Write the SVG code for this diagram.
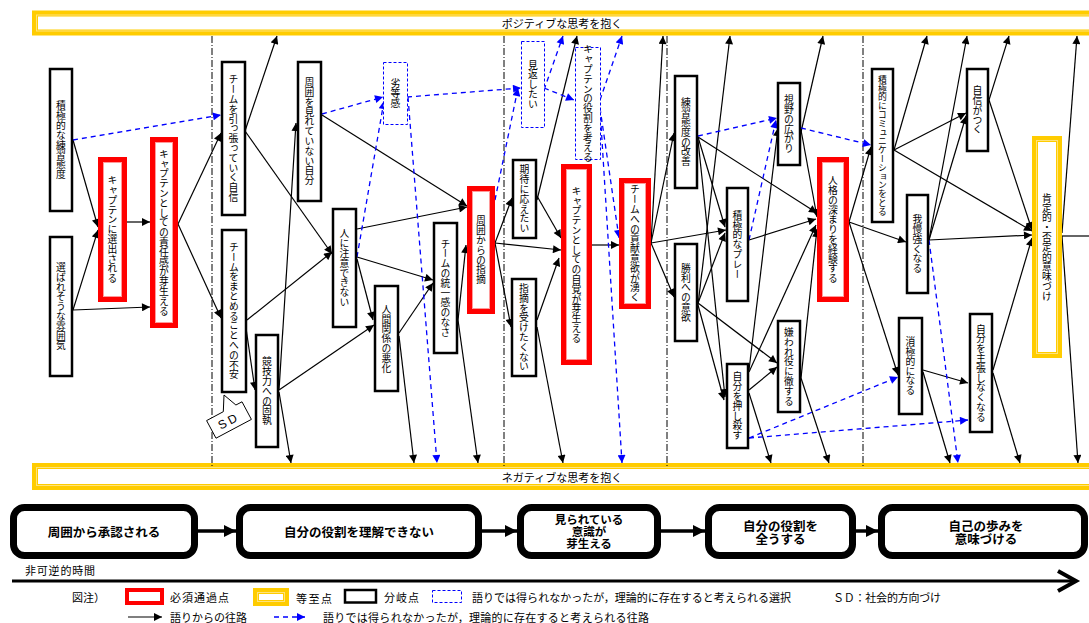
<svg xmlns="http://www.w3.org/2000/svg" width="1089" height="623" viewBox="0 0 1089 623">
<defs>
<marker id="ah" viewBox="0 0 10 10" refX="10" refY="5" markerWidth="9" markerHeight="8" orient="auto" markerUnits="userSpaceOnUse"><path d="M0,0 L10,5 L0,10 z" fill="#000"/></marker>
<marker id="bh" viewBox="0 0 10 10" refX="10" refY="5" markerWidth="9" markerHeight="8" orient="auto" markerUnits="userSpaceOnUse"><path d="M0,0 L10,5 L0,10 z" fill="#0000FF"/></marker>
<marker id="ph" viewBox="0 0 10 10" refX="10" refY="5" markerWidth="12" markerHeight="12" orient="auto" markerUnits="userSpaceOnUse"><path d="M0,0 L10,5 L0,10 z" fill="#000"/></marker>
</defs>
<style>
text{font-family:"Noto Sans CJK JP","Noto Sans",sans-serif;fill:#000}
.v{writing-mode:vertical-rl;text-anchor:middle;dominant-baseline:central;font-size:9.8px}
.blk{fill:#fff;stroke:#000;stroke-width:2.5}
.red{fill:#fff;stroke:#FF0000;stroke-width:5}
.redi{fill:none;stroke:#FF9A9A;stroke-width:1}
.dsh{fill:#fff;stroke:#0000FF;stroke-width:1;stroke-dasharray:3 2}
.yo{fill:#FFE37A;stroke:#FFCC00;stroke-width:4}
.yi{fill:#fff;stroke:#FFCC00;stroke-width:1}
.dd{stroke:#000;stroke-width:1;stroke-dasharray:7 2 1 2;fill:none}
#connectors line{fill:none}
.e{stroke:#000;stroke-width:1.2;marker-end:url(#ah)}
.d{stroke:#0000FF;stroke-width:1.3;stroke-dasharray:5 4;marker-end:url(#bh)}
.pb{fill:#fff;stroke:#000;stroke-width:7}
.pt{font-size:12.5px;font-weight:bold;text-anchor:middle;dominant-baseline:central}
.lg{font-size:11px;dominant-baseline:central}
</style>
<rect width="1089" height="623" fill="#fff"/>

<g id="bands">
<rect class="yo" x="34" y="12.5" width="1070" height="21"/>
<rect class="yi" x="37.5" y="16" width="1062" height="14"/>
<text x="562" y="23" font-size="11" text-anchor="middle" dominant-baseline="central">ポジティブな思考を抱く</text>
<rect class="yo" x="34" y="465" width="1070" height="23"/>
<rect class="yi" x="37.5" y="468.5" width="1062" height="16"/>
<text x="562" y="477" font-size="11" text-anchor="middle" dominant-baseline="central">ネガティブな思考を抱く</text>
</g>

<g id="dividers">
<line class="dd" x1="212" y1="36" x2="212" y2="466"/>
<line class="dd" x1="504" y1="36" x2="504" y2="466"/>
<line class="dd" x1="667" y1="36" x2="667" y2="466"/>
<line class="dd" x1="863" y1="36" x2="863" y2="466"/>
</g>

<g id="connectors">
<line class="e" x1="73" y1="140" x2="98" y2="227"/>
<line class="e" x1="73" y1="310" x2="98" y2="230"/>
<line class="e" x1="73" y1="310" x2="150" y2="307"/>
<line class="e" x1="127" y1="222" x2="150" y2="222"/>
<line class="e" x1="178" y1="224" x2="221" y2="133"/>
<line class="e" x1="178" y1="224" x2="221" y2="318"/>
<line class="e" x1="245" y1="131" x2="277" y2="36"/>
<line class="e" x1="245" y1="131" x2="332" y2="254"/>
<line class="e" x1="247" y1="320" x2="332" y2="252"/>
<line class="e" x1="246" y1="328" x2="255" y2="390"/>
<line class="e" x1="279" y1="390" x2="296" y2="123"/>
<line class="e" x1="279" y1="392" x2="291" y2="463"/>
<line class="e" x1="279" y1="390" x2="374" y2="325"/>
<line class="e" x1="322" y1="115" x2="467" y2="206"/>
<line class="e" x1="357" y1="229" x2="467" y2="207"/>
<line class="e" x1="357" y1="257" x2="433" y2="280"/>
<line class="e" x1="357" y1="259" x2="373" y2="320"/>
<line class="e" x1="399" y1="333" x2="433" y2="283"/>
<line class="e" x1="399" y1="336" x2="414" y2="463"/>
<line class="e" x1="458" y1="320" x2="466" y2="245"/>
<line class="e" x1="458" y1="320" x2="478" y2="463"/>
<line class="e" x1="495" y1="243" x2="512" y2="198"/>
<line class="e" x1="495" y1="243" x2="511" y2="327"/>
<line class="e" x1="495" y1="243" x2="561" y2="250"/>
<line class="e" x1="537" y1="200" x2="577" y2="36"/>
<line class="e" x1="537" y1="196" x2="561" y2="238"/>
<line class="e" x1="537" y1="320" x2="559" y2="258"/>
<line class="e" x1="537" y1="327" x2="563" y2="463"/>
<line class="e" x1="592" y1="245" x2="619" y2="245"/>
<line class="e" x1="651" y1="243" x2="663" y2="36"/>
<line class="e" x1="651" y1="243" x2="674" y2="133"/>
<line class="e" x1="651" y1="243" x2="726" y2="230"/>
<line class="e" x1="651" y1="243" x2="674" y2="297"/>
<line class="e" x1="698" y1="137" x2="817" y2="213"/>
<line class="e" x1="698" y1="137" x2="725" y2="227"/>
<line class="e" x1="698" y1="140" x2="725" y2="397"/>
<line class="e" x1="698" y1="305" x2="730" y2="36"/>
<line class="e" x1="698" y1="303" x2="725" y2="233"/>
<line class="e" x1="698" y1="303" x2="777" y2="363"/>
<line class="e" x1="698" y1="305" x2="724" y2="400"/>
<line class="e" x1="749" y1="240" x2="816" y2="219"/>
<line class="e" x1="749" y1="370" x2="778" y2="128"/>
<line class="e" x1="749" y1="390" x2="777" y2="367"/>
<line class="e" x1="749" y1="393" x2="771" y2="463"/>
<line class="e" x1="749" y1="372" x2="816" y2="225"/>
<line class="e" x1="801" y1="378" x2="817" y2="229"/>
<line class="e" x1="801" y1="378" x2="829" y2="463"/>
<line class="e" x1="801" y1="132" x2="823" y2="36"/>
<line class="e" x1="801" y1="130" x2="817" y2="217"/>
<line class="e" x1="849" y1="222" x2="906" y2="242"/>
<line class="e" x1="849" y1="222" x2="871" y2="147"/>
<line class="e" x1="849" y1="222" x2="898" y2="375"/>
<line class="e" x1="894" y1="150" x2="927" y2="36"/>
<line class="e" x1="894" y1="150" x2="966" y2="113"/>
<line class="e" x1="894" y1="150" x2="1032" y2="231"/>
<line class="e" x1="929" y1="240" x2="967" y2="36"/>
<line class="e" x1="929" y1="240" x2="966" y2="116"/>
<line class="e" x1="929" y1="240" x2="1032" y2="235"/>
<line class="e" x1="989" y1="100" x2="1009" y2="36"/>
<line class="e" x1="989" y1="100" x2="1032" y2="230"/>
<line class="e" x1="923" y1="370" x2="968" y2="383"/>
<line class="e" x1="923" y1="372" x2="950" y2="463"/>
<line class="e" x1="993" y1="370" x2="1032" y2="238"/>
<line class="e" x1="993" y1="373" x2="1020" y2="463"/>
<line class="e" x1="1062" y1="233" x2="1077" y2="36"/>
<line class="e" x1="1062" y1="236" x2="1078" y2="463"/>
<line x1="1062" y1="236" x2="1089" y2="236" stroke="#000" stroke-width="1.2"/>
<line class="d" x1="73" y1="140" x2="221" y2="115"/>
<line class="d" x1="322" y1="114" x2="383" y2="97"/>
<line class="d" x1="357" y1="257" x2="384" y2="101"/>
<line class="d" x1="407" y1="97" x2="521" y2="88"/>
<line class="d" x1="408" y1="97" x2="437" y2="463"/>
<line class="d" x1="495" y1="200" x2="518" y2="88"/>
<line class="d" x1="544" y1="90" x2="563" y2="36"/>
<line class="d" x1="544" y1="88" x2="574" y2="100"/>
<line class="d" x1="600" y1="100" x2="622" y2="36"/>
<line class="d" x1="600" y1="108" x2="619" y2="238"/>
<line class="d" x1="600" y1="108" x2="622" y2="463"/>
<line class="d" x1="698" y1="136" x2="777" y2="118"/>
<line class="d" x1="749" y1="240" x2="776" y2="120"/>
<line class="d" x1="801" y1="128" x2="871" y2="145"/>
<line class="d" x1="749" y1="438" x2="898" y2="377"/>
<line class="d" x1="749" y1="438" x2="968" y2="420"/>
<line class="d" x1="929" y1="240" x2="958" y2="463"/>
</g>

<g id="n1"><rect class="blk" x="50" y="69" width="22" height="142"/><text class="v" x="61" y="140">積極的な練習態度</text></g>
<g id="n2"><rect class="blk" x="50" y="237" width="22" height="139"/><text class="v" x="61" y="306.5">選ばれそうな雰囲気</text></g>
<g id="n3"><rect class="red" x="100.5" y="159.5" width="24" height="140"/><rect class="redi" x="103.5" y="162.5" width="18" height="134"/><text class="v" x="112.5" y="229.5">キャプテンに選出される</text></g>
<g id="n4"><rect class="red" x="152.5" y="139.5" width="23" height="186"/><rect class="redi" x="155.5" y="142.5" width="17" height="180"/><text class="v" x="164" y="232.5">キャプテンとしての責任感が芽生える</text></g>
<g id="n5"><rect class="blk" x="222" y="62" width="23" height="153"/><text class="v" x="233.5" y="138.5">チームを引っ張っていく自信</text></g>
<g id="n6"><rect class="blk" x="222" y="230" width="24" height="162"/><text class="v" x="234" y="311">チームをまとめることへの不安</text></g>
<g id="n7"><rect class="blk" x="256" y="335" width="22" height="112"/><text class="v" x="267" y="391">競技力への固執</text></g>
<g id="sd"><polygon points="206.6,420.6 223.3,411.7 224,395 235.9,405 242,401.8 251.4,419.4 216,438.2" fill="#fff" stroke="#000" stroke-width="1"/><text x="229" y="421" font-size="12" text-anchor="middle" dominant-baseline="central" letter-spacing="3" transform="rotate(-28 229 421)" style="font-family:'Liberation Sans',sans-serif">SD</text></g>
<g id="n8"><rect class="blk" x="298" y="62" width="23" height="139"/><text class="v" x="309.5" y="131.5">周囲を見れていない自分</text></g>
<g id="n9"><rect class="blk" x="333" y="209" width="23" height="118"/><text class="v" x="344.5" y="268">人に注意できない</text></g>
<g id="n10"><rect class="blk" x="375" y="286" width="23" height="105"/><text class="v" x="386.5" y="338.5">人間関係の悪化</text></g>
<g id="n11"><rect class="dsh" x="383.5" y="62.5" width="24" height="62"/><text class="v" x="395.5" y="93.5">劣等感</text></g>
<g id="n12"><rect class="blk" x="434" y="223" width="23" height="130"/><text class="v" x="445.5" y="288">チームの統一感のなさ</text></g>
<g id="n13"><rect class="red" x="469.5" y="188.5" width="23" height="123"/><rect class="redi" x="472.5" y="191.5" width="17" height="117"/><text class="v" x="481" y="250">周囲からの指摘</text></g>
<g id="n14"><rect class="dsh" x="521.5" y="41.5" width="23" height="86"/><text class="v" x="533" y="84.5">見返したい</text></g>
<g id="n15"><rect class="blk" x="513" y="160" width="23" height="78"/><text class="v" x="524.5" y="199">期待に応えたい</text></g>
<g id="n16"><rect class="blk" x="512" y="279" width="24" height="97"/><text class="v" x="524" y="327.5">指摘を受けたくない</text></g>
<g id="n17"><rect class="dsh" x="575.5" y="47.5" width="25" height="112"/><text class="v" x="588" y="103.5">キャプテンの役割を考える</text></g>
<g id="n18"><rect class="red" x="563.5" y="166.5" width="26" height="196"/><rect class="redi" x="566.5" y="169.5" width="20" height="190"/><text class="v" x="576.5" y="264.5">キャプテンとしての自覚が芽生える</text></g>
<g id="n19"><rect class="red" x="621.5" y="180.5" width="27" height="126"/><rect class="redi" x="624.5" y="183.5" width="21" height="120"/><text class="v" x="635" y="243.5">チームへの貢献意欲が湧く</text></g>
<g id="n20"><rect class="blk" x="675" y="76" width="22" height="112"/><text class="v" x="686" y="132">練習態度の改善</text></g>
<g id="n21"><rect class="blk" x="675" y="244" width="22" height="97"/><text class="v" x="686" y="292.5">勝利への意欲</text></g>
<g id="n22"><rect class="blk" x="727" y="188" width="21" height="113"/><text class="v" x="737.5" y="244.5">積極的なプレー</text></g>
<g id="n23"><rect class="blk" x="727" y="364" width="21" height="84"/><text class="v" x="737.5" y="406">自分を押し殺す</text></g>
<g id="n24"><rect class="blk" x="778" y="83" width="22" height="82"/><text class="v" x="789" y="124">視野の広がり</text></g>
<g id="n25"><rect class="blk" x="778" y="321" width="22" height="91"/><text class="v" x="789" y="366.5">嫌われ役に徹する</text></g>
<g id="n26"><rect class="red" x="819.5" y="159.5" width="27" height="140"/><rect class="redi" x="822.5" y="162.5" width="21" height="134"/><text class="v" x="833" y="229.5">人格の深まりを経験する</text></g>
<g id="n27"><rect class="blk" x="872" y="69" width="21" height="153"/><text class="v" x="882.5" y="145.5" style="font-size:8.8px">積極的にコミュニケーションをとる</text></g>
<g id="n28"><rect class="blk" x="907" y="195" width="21" height="98"/><text class="v" x="917.5" y="244">我慢強くなる</text></g>
<g id="n29"><rect class="blk" x="899" y="318" width="23" height="96"/><text class="v" x="910.5" y="366">消極的になる</text></g>
<g id="n30"><rect class="blk" x="967" y="69" width="21" height="82"/><text class="v" x="977.5" y="110">自信がつく</text></g>
<g id="n31"><rect class="blk" x="970" y="314" width="22" height="118"/><text class="v" x="981" y="373">自分を主張しなくなる</text></g>
<g id="n32"><rect class="yo" x="1034" y="138" width="26" height="218"/><rect class="yi" x="1037.5" y="141.5" width="19" height="211"/><text class="v" x="1047" y="247">肯定的・否定的意味づけ</text></g>

<g id="process">
<g id="p1"><rect class="pb" x="13.5" y="507.5" width="181" height="48" rx="11"/><text class="pt" x="104" y="531">周囲から承認される</text></g>
<g id="p2"><rect class="pb" x="239.5" y="507.5" width="239" height="48" rx="11"/><text class="pt" x="359" y="531">自分の役割を理解できない</text></g>
<g id="p3"><rect class="pb" x="520.5" y="507.5" width="137" height="48" rx="11"/><text class="pt" style="font-size:11.5px"><tspan x="589" y="519">見られている</tspan><tspan x="589" y="531">意識が</tspan><tspan x="589" y="543">芽生える</tspan></text></g>
<g id="p4"><rect class="pb" x="708.5" y="507.5" width="144" height="48" rx="11"/><text class="pt"><tspan x="780.5" y="525">自分の役割を</tspan><tspan x="780.5" y="538">全うする</tspan></text></g>
<g id="p5"><rect class="pb" x="881.5" y="507.5" width="203" height="48" rx="11"/><text class="pt"><tspan x="986" y="525">自己の歩みを</tspan><tspan x="986" y="538">意味づける</tspan></text></g>
<g id="parrows" stroke="#000" stroke-width="3.5" marker-end="url(#ph)">
<line x1="198" y1="531" x2="236" y2="531"/>
<line x1="482" y1="531" x2="517" y2="531"/>
<line x1="661" y1="531" x2="705" y2="531"/>
<line x1="856" y1="531" x2="878" y2="531"/>
</g>
</g>

<g id="timeline">
<text x="25" y="570" class="lg" letter-spacing="0.8">非可逆的時間</text>
<line x1="12" y1="581" x2="1075" y2="581" stroke="#000" stroke-width="3"/>
<polyline points="1058,571 1076,581 1058,591" fill="none" stroke="#000" stroke-width="4"/>
</g>

<g id="legend">
<text x="72" y="597" class="lg">図注）</text>
<rect x="127" y="590" width="35" height="13" fill="#fff" stroke="#FF0000" stroke-width="4"/>
<text x="170" y="597" class="lg" textLength="59">必須通過点</text>
<rect class="yo" x="255" y="590" width="32" height="14"/>
<rect class="yi" x="258.5" y="593.5" width="25" height="7"/>
<text x="296" y="598" class="lg" textLength="36">等至点</text>
<rect class="blk" x="345" y="590" width="31" height="12.5"/>
<text x="384" y="597" class="lg" textLength="35">分岐点</text>
<rect x="432.5" y="590.5" width="29" height="12" fill="none" stroke="#0000FF" stroke-width="1" stroke-dasharray="3 2"/>
<text x="472" y="597" class="lg" textLength="319">語りでは得られなかったが，理論的に存在すると考えられる選択</text>
<text x="833" y="597" class="lg" textLength="108">ＳＤ：社会的方向づけ</text>
<line x1="128" y1="617" x2="162" y2="617" stroke="#000" stroke-width="1.2" marker-end="url(#ah)"/>
<text x="170" y="617" class="lg" textLength="77">語りからの往路</text>
<line x1="274" y1="617" x2="305" y2="617" stroke="#0000FF" stroke-width="1.3" stroke-dasharray="5 4" marker-end="url(#bh)"/>
<text x="323" y="617" class="lg" textLength="326">語りでは得られなかったが，理論的に存在すると考えられる往路</text>
</g>
</svg>
